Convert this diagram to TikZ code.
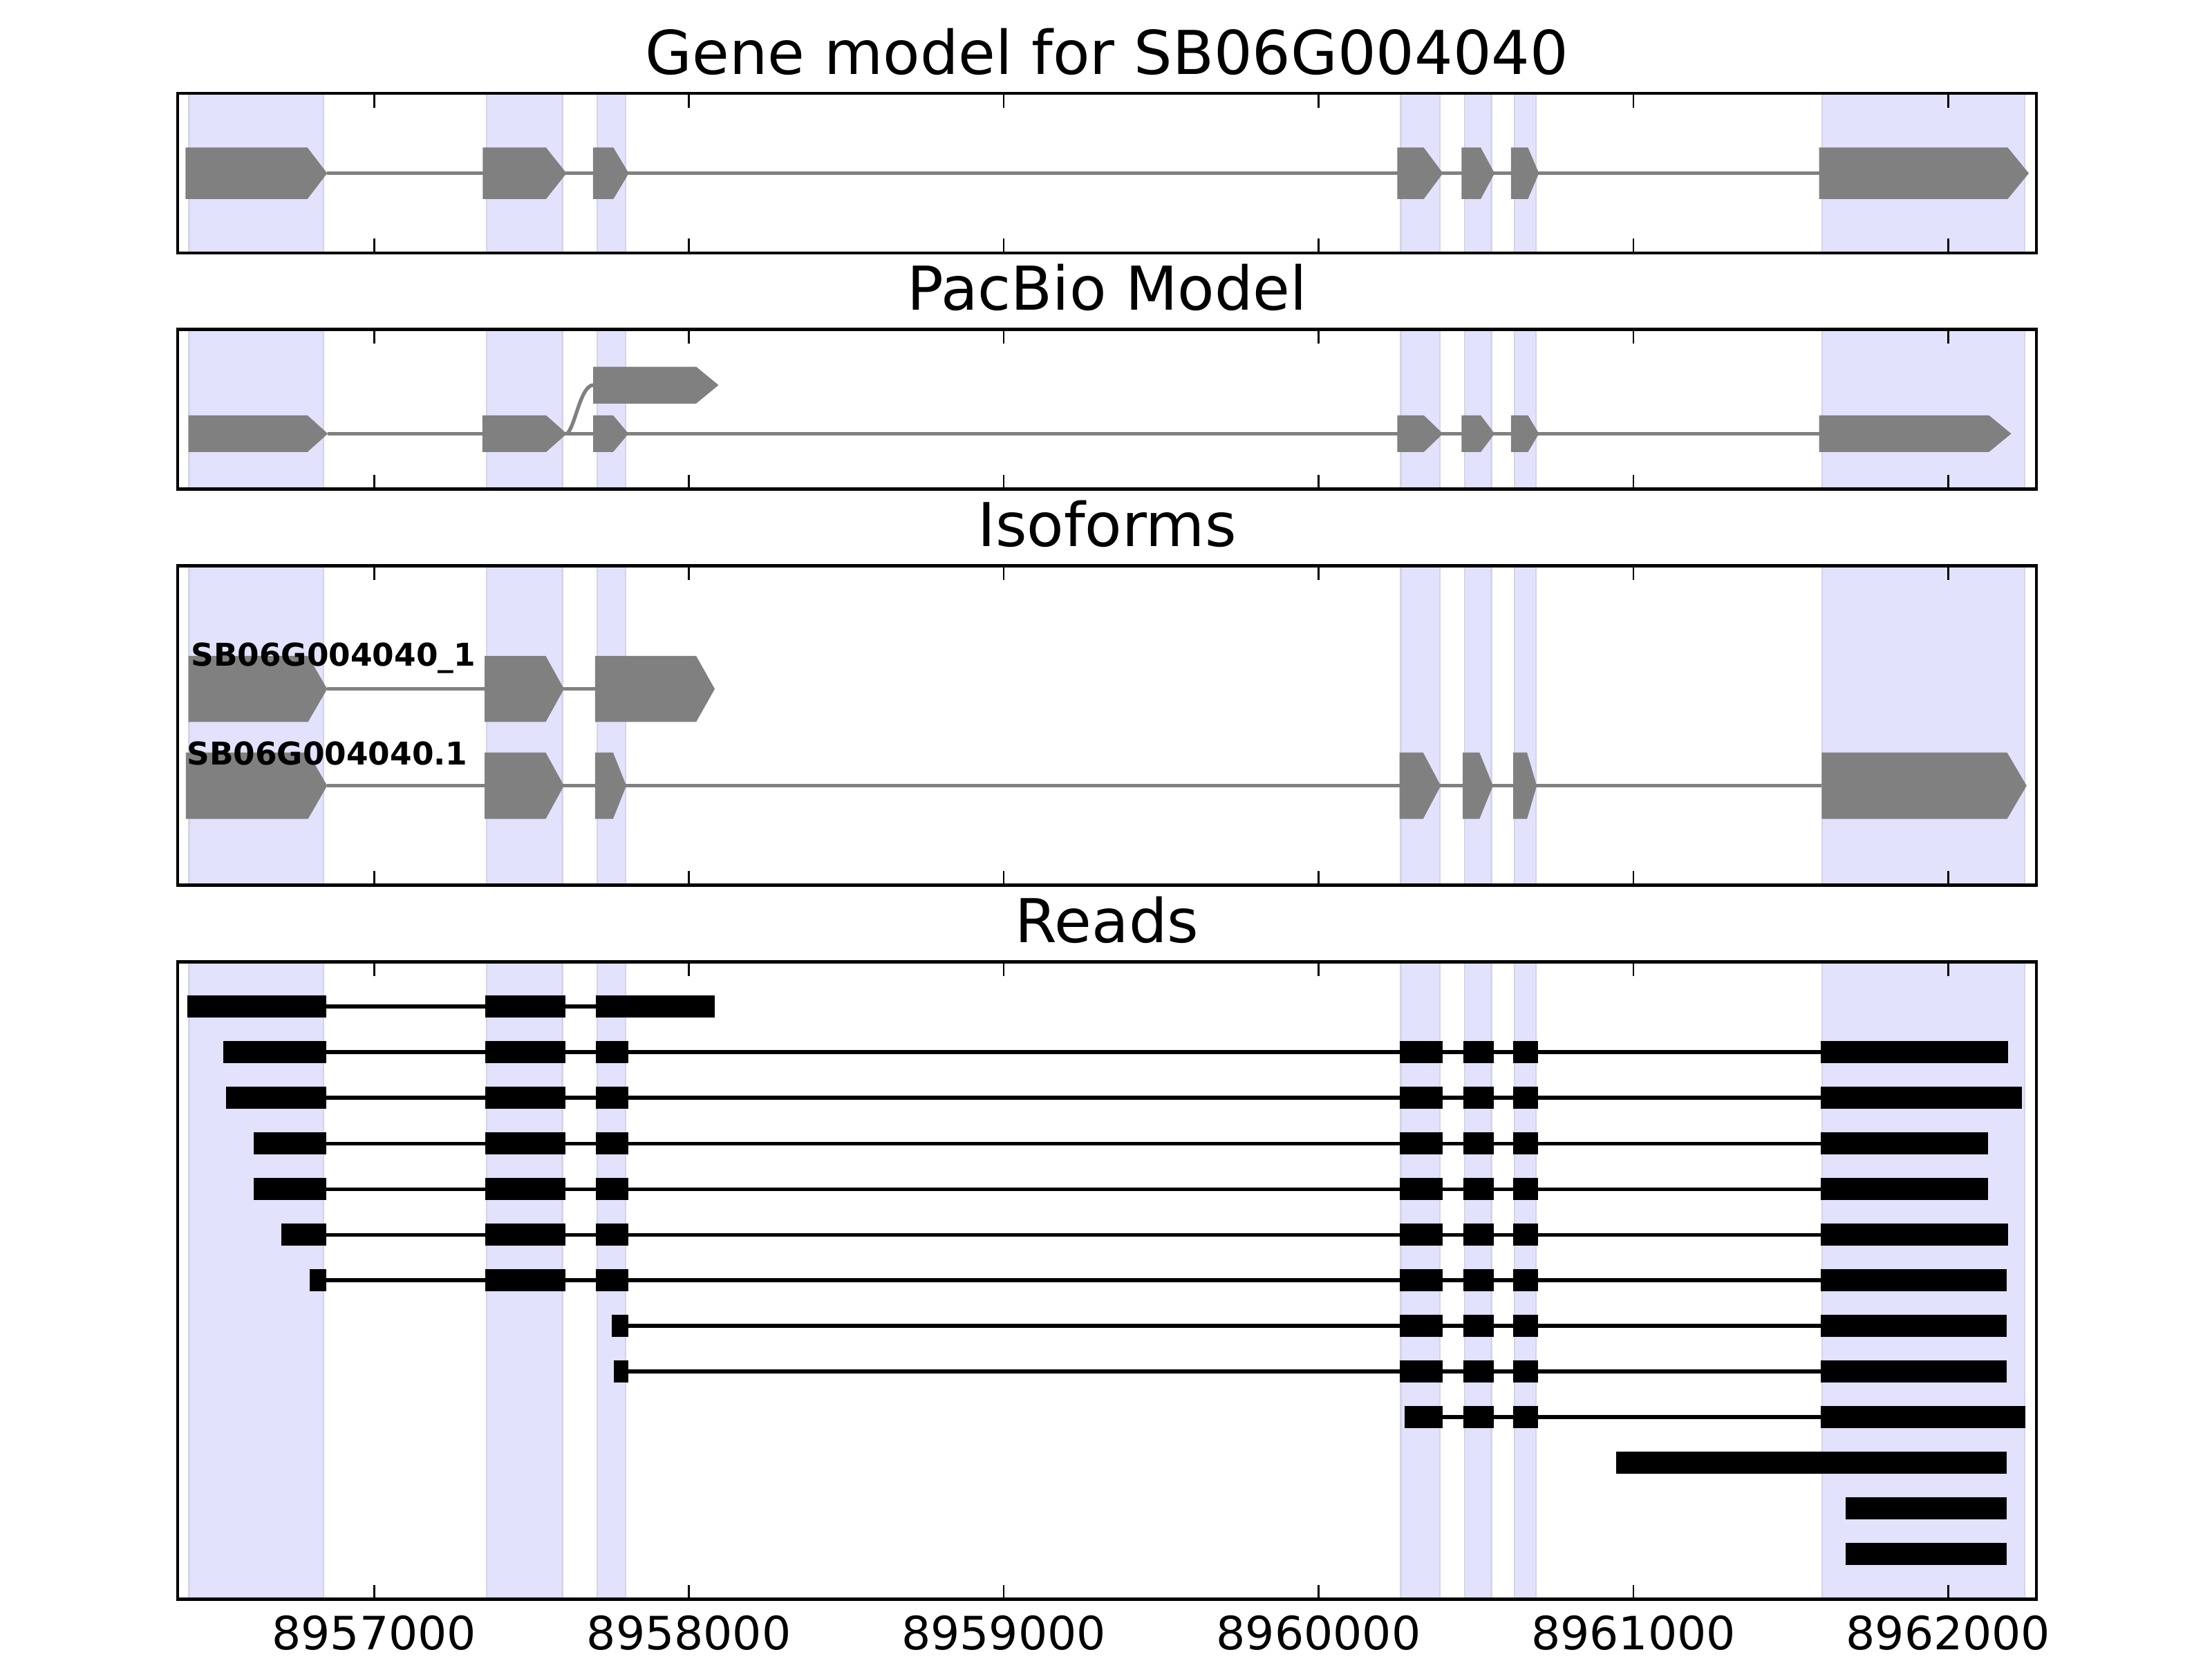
\documentclass[tikz,border=0pt]{standalone}
\usepackage{fontspec}
\setmainfont{DejaVu Sans}
\definecolor{genegray}{RGB}{128,128,128}
\definecolor{bandblue}{RGB}{226,226,253}
\definecolor{bandedge}{RGB}{212,212,232}
\begin{document}
\begin{tikzpicture}[
    band/.style={fill=bandblue, draw=bandedge, line width=0.4pt},
    exon/.style={fill=genegray},
    intron/.style={draw=genegray, line width=0.95pt},
    readbox/.style={fill=black},
    readline/.style={draw=black, line width=0.95pt},
    frame/.style={draw=black, line width=0.8pt},
    tickmark/.style={line width=0.5pt},
    paneltitle/.style={font=\fontsize{15.8}{19}\selectfont, anchor=base, inner sep=0pt},
    ticklabel/.style={font=\fontsize{12}{14}\selectfont, anchor=base, inner sep=0pt},
    isolabel/.style={font=\bfseries\fontsize{8.2}{10}\selectfont, anchor=base west, inner sep=0pt}]
  \useasboundingbox (0,0) rectangle (20.32,15.24);
  \begin{scope}[xshift=0.5448cm, x=2.892cm]
  % shaded exon regions in every panel
  \foreach \pbot/\ptop in {12.916/14.383, 10.747/12.214, 7.109/10.043, 0.549/6.404}
    \foreach \a/\b in {0.412/0.840, 1.358/1.598, 1.709/1.799, 4.261/4.385, 4.465/4.549, 4.623/4.690, 5.600/6.242}
      \path[band] (\a,\pbot) rectangle (\b,\ptop);
  % intron lines
  \draw[intron] (0.851,13.648) -- (5.590,13.648);
  \draw[intron] (0.853,11.256) -- (5.590,11.256);
  \draw[intron] (1.612,11.256) .. controls (1.637,11.30) and (1.655,11.702) .. (1.696,11.702);
  \draw[intron] (0.851,8.911) -- (1.702,8.911);
  \draw[intron] (0.851,8.022) -- (5.598,8.022);
  % exon arrows: gene model, PacBio, isoforms
  \foreach \y/\h/\exons in {
      13.648/0.2365/{0.401/0.788/0.851, 1.345/1.546/1.611, 1.695/1.760/1.809, 4.250/4.334/4.395, 4.454/4.515/4.559, 4.611/4.665/4.700, 5.590/6.189/6.256},
      11.256/0.169/{0.410/0.788/0.853, 1.344/1.546/1.612, 1.696/1.759/1.808, 4.250/4.334/4.395, 4.454/4.515/4.559, 4.611/4.665/4.700, 5.590/6.129/6.200},
      11.702/0.169/{1.696/2.023/2.094},
      8.911/0.303/{0.410/0.790/0.851, 1.351/1.545/1.603, 1.702/2.023/2.082},
      8.022/0.305/{0.402/0.790/0.851, 1.351/1.545/1.603, 1.702/1.759/1.801, 4.257/4.332/4.388, 4.458/4.511/4.554, 4.618/4.662/4.693, 5.598/6.187/6.249}}
    \foreach \s/\m/\t in \exons
      \fill[exon] (\s,\y-\h) -- (\m,\y-\h) -- (\t,\y) -- (\m,\y+\h) -- (\s,\y+\h) -- cycle;
  % reads
  \foreach \y/\s/\e/\blocks in {
      5.994/0.849/1.704/{0.407/0.849, 1.352/1.607, 1.704/2.083},
      5.575/0.849/5.596/{0.520/0.849, 1.352/1.607, 1.704/1.807, 4.257/4.394, 4.459/4.557, 4.618/4.696, 5.596/6.189},
      5.156/0.849/5.596/{0.529/0.849, 1.352/1.607, 1.704/1.807, 4.257/4.394, 4.459/4.557, 4.618/4.696, 5.596/6.235},
      4.736/0.849/5.596/{0.617/0.849, 1.352/1.607, 1.704/1.807, 4.257/4.394, 4.459/4.557, 4.618/4.696, 5.596/6.127},
      4.317/0.849/5.596/{0.617/0.849, 1.352/1.607, 1.704/1.807, 4.257/4.394, 4.459/4.557, 4.618/4.696, 5.596/6.127},
      3.898/0.849/5.596/{0.706/0.849, 1.352/1.607, 1.704/1.807, 4.257/4.394, 4.459/4.557, 4.618/4.696, 5.596/6.189},
      3.479/0.849/5.596/{0.795/0.849, 1.352/1.607, 1.704/1.807, 4.257/4.394, 4.459/4.557, 4.618/4.696, 5.596/6.186},
      3.060/1.807/5.596/{1.754/1.807, 4.257/4.394, 4.459/4.557, 4.618/4.696, 5.596/6.186},
      2.641/1.807/5.596/{1.762/1.807, 4.257/4.394, 4.459/4.557, 4.618/4.696, 5.596/6.186},
      2.222/4.394/5.596/{4.273/4.394, 4.459/4.557, 4.618/4.696, 5.596/6.244},
      1.803/6.186/6.186/{4.945/6.186},
      1.384/6.186/6.186/{5.673/6.186},
      0.965/6.186/6.186/{5.673/6.186}}
  {
    \draw[readline] (\s,\y) -- (\e,\y);
    \foreach \a/\b in \blocks
      \fill[readbox] (\a,\y-0.1017) rectangle (\b,\y+0.1017);
  }
  % frames and ticks
  \foreach \pbot/\ptop in {12.916/14.383, 10.747/12.214, 7.109/10.043, 0.549/6.404} {
    \draw[frame] (0.3753,\pbot) rectangle (6.280,\ptop);
    \foreach \k in {1,...,6} {
      \draw[tickmark] (\k,\pbot) -- ++(0,0.131);
      \draw[tickmark] (\k,\ptop) -- ++(0,-0.131);
    }
  }
  % titles and labels
  \node[paneltitle] (genetitle) at (3.328,14.558) {Gene model for SB06G004040};
  \node[paneltitle] (pacbiotitle) at (3.328,12.389) {PacBio Model};
  \node[paneltitle] (isotitle) at (3.328,10.218) {Isoforms};
  \node[paneltitle] (readstitle) at (3.328,6.579) {Reads};
  \node[isolabel] (iso1) at (0.416,9.123) {SB06G004040\_1};
  \node[isolabel] (iso2) at (0.403,8.212) {SB06G004040.1};
  \foreach \k/\pos in {1/8957000, 2/8958000, 3/8959000, 4/8960000, 5/8961000, 6/8962000}
    \node[ticklabel] (tick\k) at (\k,0.0855) {\pos};
  \end{scope}
\end{tikzpicture}
\end{document}
